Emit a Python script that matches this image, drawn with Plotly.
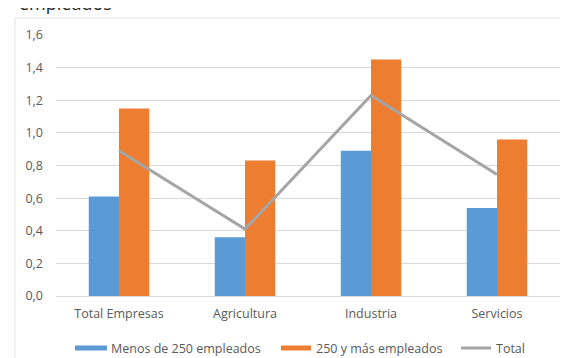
import plotly.graph_objects as go

categories = ["Total Empresas", "Agricultura", "Industria", "Servicios"]
menos_250 = [0.61, 0.36, 0.89, 0.54]
mas_250 = [1.15, 0.83, 1.45, 0.96]
total = [0.89, 0.41, 1.23, 0.745]
y_ticks = [0, 0.2, 0.4, 0.6, 0.8, 1.0, 1.2, 1.4, 1.6]
series_names = ["Menos de 250 empleados", "250 y más empleados", "Total"]
series_colors = ["#5B9BD5", "#ED7D31", "#A5A5A5"]

font_family = "Open Sans, Liberation Sans, sans-serif"
txt = "#595959"

# plot area in pixels
L, R, T, B = 48, 552, 27, 288
W, H = R - L, B - T


def px(x):
    return (x - L) / W


def py(y):
    return (B - y) / H


fig = go.Figure()
fig.add_trace(go.Bar(x=categories, y=menos_250, name=series_names[0],
                     marker_color=series_colors[0], marker_line_width=0))
fig.add_trace(go.Bar(x=categories, y=mas_250, name=series_names[1],
                     marker_color=series_colors[1], marker_line_width=0))
fig.add_trace(go.Scatter(x=categories, y=total, name=series_names[2], mode="lines",
                         line=dict(color=series_colors[2], width=3)))

# custom legend (wide Excel-style swatches)
shapes = [dict(type="rect", xref="paper", yref="paper",
               x0=px(7), x1=px(561), y0=py(356), y1=py(10),
               line=dict(color="#E3E3E3", width=1), layer="below")]
legend_y = 340
swatches = [(67, 99), (273, 303), (453, 483)]
text_x = [101, 306, 486]
annotations = []
for i, (name, col) in enumerate(zip(series_names, series_colors)):
    x0, x1 = swatches[i]
    if i < 2:
        shapes.append(dict(type="rect", xref="paper", yref="paper",
                           x0=px(x0), x1=px(x1), y0=py(legend_y + 2.5), y1=py(legend_y - 2.5),
                           fillcolor=col, line=dict(width=0)))
    else:
        shapes.append(dict(type="line", xref="paper", yref="paper",
                           x0=px(x0), x1=px(x1), y0=py(legend_y), y1=py(legend_y),
                           line=dict(color=col, width=3)))
    annotations.append(dict(text=name, xref="paper", yref="paper",
                            x=px(text_x[i]), y=py(legend_y), xanchor="left", yanchor="middle",
                            showarrow=False, font=dict(size=12.5, color=txt)))

annotations.append(dict(text="empleados", xref="paper", yref="paper",
                        x=px(9), y=1, xanchor="left", yanchor="bottom", yshift=18,
                        showarrow=False, font=dict(size=18, color="#222222")))

fig.update_layout(
    width=568, height=358,
    margin=dict(l=L, r=568 - R, t=T, b=358 - B, autoexpand=False),
    paper_bgcolor="white", plot_bgcolor="white",
    barmode="group", bargap=0.52, bargroupgap=0,
    separators=",.",
    font=dict(family=font_family, size=12.5, color=txt),
    showlegend=False,
    xaxis=dict(showgrid=False, showline=False, ticks="", automargin=False,
               ticklabelstandoff=8, tickfont=dict(size=12.5, color=txt)),
    yaxis=dict(range=[0, 1.6], tickvals=y_ticks, tickformat=".1f", automargin=False,
               showgrid=True, gridcolor="#D9D9D9", gridwidth=1,
               zeroline=True, zerolinecolor="#D9D9D9", zerolinewidth=1,
               showline=False, ticks="", ticklabelstandoff=12,
               tickfont=dict(size=12.5, color=txt)),
    shapes=shapes,
    annotations=annotations,
)

fig.write_html("out.html")
